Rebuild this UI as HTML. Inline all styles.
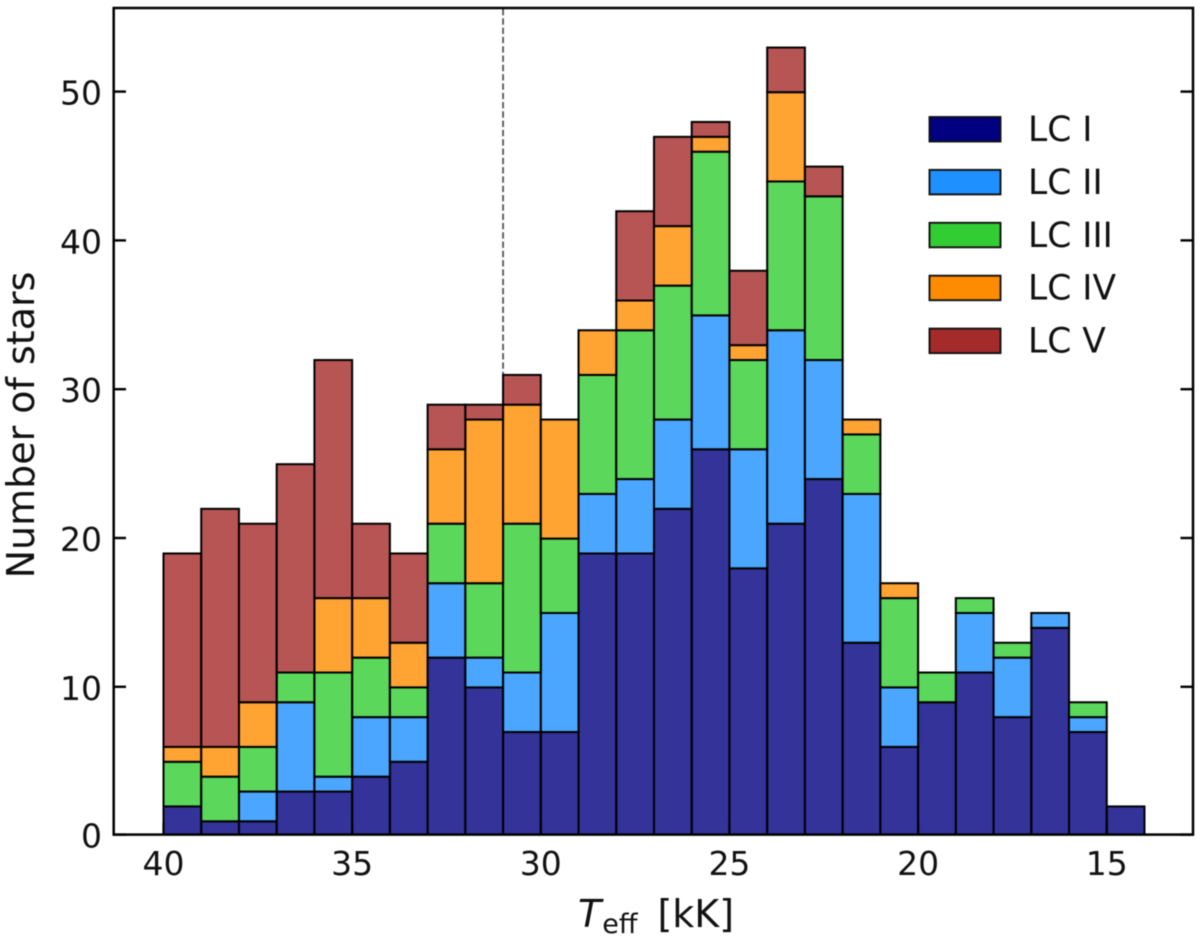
<!DOCTYPE html>
<html lang="en">
<head>
<meta charset="utf-8">
<title>Number of stars by effective temperature</title>
<style>
html,body{margin:0;padding:0;background:#fff;}
svg{display:block;filter:blur(0.45px);}
text{font-family:"DejaVu Sans",sans-serif;fill:#111;}
</style>
</head>
<body>
<svg id="chart" width="1200" height="939" viewBox="0 0 1200 939" xmlns="http://www.w3.org/2000/svg">
  <defs>
    <clipPath id="plot-clip"><rect x="113.7" y="8" width="1079.3" height="826.6"/></clipPath>
  </defs>
  <rect x="0" y="0" width="1200" height="939" fill="#fff"/>
  <line id="divider" stroke="#555" stroke-width="1.8" stroke-dasharray="6.4 2.9"/>
  <g id="bars" clip-path="url(#plot-clip)"></g>
  <g id="ticks"></g>
  <rect x="113.7" y="8" width="1079.3" height="826.6" fill="none" stroke="#000" stroke-width="2.5"/>
  <g id="legend"></g>
  <text x="578" y="927" font-size="38"><tspan font-style="italic">T</tspan><tspan font-size="27" dx="1" dy="6">eff</tspan><tspan dx="20" dy="-6">[kK]</tspan></text>
  <text transform="translate(34,425) rotate(-90)" text-anchor="middle" font-size="38">Number of stars</text>
</svg>
<script>
const binEdgesStart = 40;
const binWidth = 1;
const lcI   = [2,1,1,3,3,4,5,12,10,7,7,19,19,22,26,18,21,24,13,6,9,11,8,14,7,2];
const lcII  = [0,0,2,6,1,4,3,5,2,4,8,4,5,6,9,8,13,8,10,4,0,4,4,1,1,0];
const lcIII = [3,3,3,2,7,4,2,4,5,10,5,8,10,9,11,6,10,11,4,6,2,1,1,0,1,0];
const lcIV  = [1,2,3,0,5,4,3,5,11,8,8,3,2,4,1,1,6,0,1,1,0,0,0,0,0,0];
const lcV   = [13,16,12,14,16,5,6,3,1,2,0,0,6,6,1,5,3,2,0,0,0,0,0,0,0,0];
const seriesValues = [lcI, lcII, lcIII, lcIV, lcV];
const seriesNames = ["LC I","LC II","LC III","LC IV","LC V"];
const seriesColors = ["#000080","#1e90ff","#32cd32","#ff8c00","#a52a2a"];
const xTickValues = [40,35,30,25,20,15];
const yTickValues = [0,10,20,30,40,50];
const referenceLineValue = 31;

const NS = "http://www.w3.org/2000/svg";
const xScale = v => 163.5 + (40 - v) * 37.73;
const yScale = v => 836.2 - v * 14.88;

function make(tag, attrs, parent, txt) {
  const el = document.createElementNS(NS, tag);
  for (const k in attrs) el.setAttribute(k, attrs[k]);
  if (txt !== undefined) el.textContent = txt;
  parent.appendChild(el);
  return el;
}

const barsGroup = document.getElementById("bars");
const cumulative = lcI.map(() => 0);
seriesValues.forEach((vals, s) => {
  vals.forEach((v, i) => {
    const base = cumulative[i];
    const top = base + v;
    cumulative[i] = top;
    if (v === 0) return;
    const left = binEdgesStart - i * binWidth;
    const right = left - binWidth;
    const r = make("rect", {
      x: xScale(left), y: yScale(top),
      width: xScale(right) - xScale(left), height: yScale(base) - yScale(top),
      fill: seriesColors[s], "fill-opacity": 0.8,
      stroke: "#000", "stroke-width": 2
    }, barsGroup);
    
    
  });
});

const divider = document.getElementById("divider");
divider.setAttribute("x1", xScale(referenceLineValue));
divider.setAttribute("x2", xScale(referenceLineValue));
divider.setAttribute("y1", 9);
divider.setAttribute("y2", 834);

const ticksGroup = document.getElementById("ticks");
yTickValues.forEach(v => {
  const y = Math.min(yScale(v) - 0.6, 834.6);
  const left = make("line", {x1:113.7, x2:126, y1:y, y2:y, stroke:"#000", "stroke-width":2.4}, ticksGroup);
  
  
  const right = make("line", {x1:1180.5, x2:1193, y1:y, y2:y, stroke:"#000", "stroke-width":2.4}, ticksGroup);
  
  
  const label = make("text", {x:102, y:y + 13, "text-anchor":"end", "font-size":33}, ticksGroup, String(v));
  
  
});
xTickValues.forEach(v => {
  const x = xScale(v);
  const mark = make("line", {x1:x, x2:x, y1:834.6, y2:822.5, stroke:"#000", "stroke-width":2.2}, ticksGroup);
  
  
  const label = make("text", {x:x, y:875, "text-anchor":"middle", "font-size":33}, ticksGroup, String(v));
  
  
});

const legendGroup = document.getElementById("legend");
seriesNames.forEach((name, i) => {
  const top = 117 + i * 52.9;
  const patch = make("rect", {x:929.5, y:top, width:71, height:24.5, fill:seriesColors[i], stroke:"#111", "stroke-width":1.9}, legendGroup);
  
  
  const label = make("text", {x:1028, y:top + 24, "font-size":34.5}, legendGroup, name);
  
  
});
</script>
</body>
</html>
